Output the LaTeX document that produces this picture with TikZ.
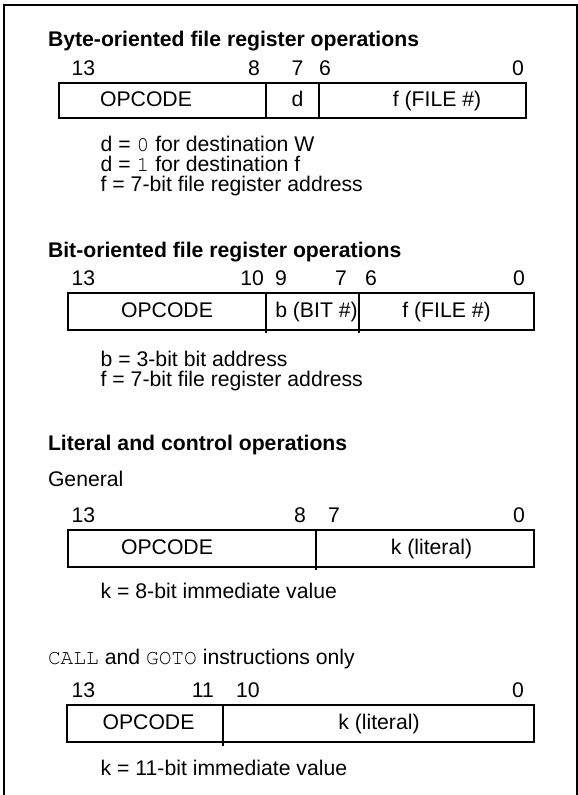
\documentclass[tikz,border=0pt]{standalone}
\usepackage{fontspec}
\setmainfont{Liberation Sans}
\newfontfamily\monof{texgyrecursor-regular.otf}
\newcommand\fsz{\fontsize{21.2}{25}\selectfont}
\begin{document}
\begin{tikzpicture}[x=1pt,y=-1pt,
  txt/.style={inner sep=0pt, outer sep=0pt, font=\fsz},
  tl/.style={txt, anchor=base west},
  tr/.style={txt, anchor=base east},
  tc/.style={txt, anchor=base},
  hd/.style={tl, font=\fsz\bfseries},
  framel/.style={line width=2pt},
  boxl/.style={line width=2pt},
  divl/.style={line width=1.6pt}]
\useasboundingbox (0,0) rectangle (578,795);
\draw[framel] (3.5,795) -- (3.5,5) -- (576.5,5) -- (576.5,795);

% ---- Byte-oriented
\node[hd] (t1) at (48,46.5) {Byte-oriented file register operations};
\node[tl] (a13) at (71.5,75) {13};
\node[tr] (a8) at (260,75) {8};
\node[tl] (a7) at (291.5,75) {7};
\node[tl] (a6) at (319,75) {6};
\node[tr] (a0) at (524,75) {0};
\draw[boxl] (58.5,82.5) rectangle (525.5,118);
\draw[divl] (266,82.5) -- (266,118);
\draw[divl] (319,82.5) -- (319,118);
\node[tc] (aop) at (146,106.3) {OPCODE};
\node[tc] (ad) at (297.5,106.3) {d};
\node[tc] (af) at (437,106.3) {f (FILE \#)};
\node[tl] (an1) at (100.7,151) {d = {\monof 0} for destination W};
\node[tl] (an2) at (100.7,171) {d = {\monof 1} for destination f};
\node[tl] (an3) at (100.7,191) {f = 7-bit file register address};

% ---- Bit-oriented
\node[hd] (t2) at (48,257.5) {Bit-oriented file register operations};
\node[tl] (b13) at (71.5,285.3) {13};
\node[tr] (b10) at (264,285.3) {10};
\node[tl] (b9) at (275,285.3) {9};
\node[tr] (b7) at (347,285.3) {7};
\node[tl] (b6) at (365,285.3) {6};
\node[tr] (b0) at (525,285.3) {0};
\draw[boxl] (67.5,293.3) rectangle (534,330);
\draw[divl] (265.7,293.3) -- (265.7,333);
\draw[divl] (359,293.3) -- (359,333);
\node[tc] (bop) at (167,317.7) {OPCODE};
\node[tc] (bb) at (316.5,317.7) {b (BIT \#)};
\node[tc] (bf) at (446.5,317.7) {f (FILE \#)};
\node[tl] (bn1) at (100.7,366.5) {b = 3-bit bit address};
\node[tl] (bn2) at (100.7,386.5) {f = 7-bit file register address};

% ---- Literal and control
\node[hd] (t3) at (48,450) {Literal and control operations};
\node[tl] (gen) at (48,486.5) {General};
\node[tl] (c13) at (71.5,522) {13};
\node[tr] (c8) at (306,522) {8};
\node[tl] (c7) at (328,522) {7};
\node[tr] (c0) at (525,522) {0};
\draw[boxl] (67.5,530) rectangle (534,566.7);
\draw[divl] (316,530) -- (316,570);
\node[tc] (cop) at (167,554.3) {OPCODE};
\node[tc] (ck) at (431.5,554.3) {k (literal)};
\node[tl] (cn1) at (100.7,598) {k = 8-bit immediate value};

% ---- CALL and GOTO
\node[tl] (cg) at (48,664) {{\monof CALL} and {\monof GOTO} instructions only};
\node[tl] (d13) at (71.5,697) {13};
\node[tr] (d11) at (214,697) {11};
\node[tl] (d10) at (236,697) {10};
\node[tr] (d0) at (524,697) {0};
\draw[boxl] (66.5,705) rectangle (534,742);
\draw[divl] (223,705) -- (223,746);
\node[tc] (dop) at (148.5,729.5) {OPCODE};
\node[tc] (dk) at (379,729.5) {k (literal)};
\node[tl] (dn1) at (100.7,775.5) {k = 11-bit immediate value};
\end{tikzpicture}
\end{document}
